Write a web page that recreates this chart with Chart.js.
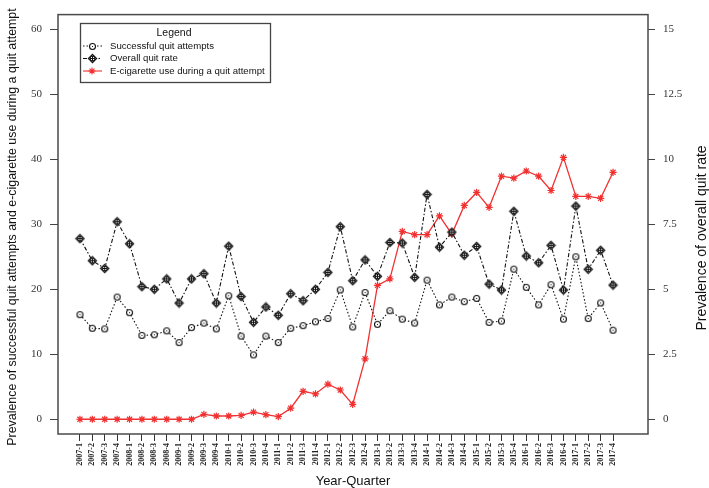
<!DOCTYPE html>
<html>
<head>
<meta charset="utf-8">
<script src="https://cdn.jsdelivr.net/npm/chart.js@4.4.0/dist/chart.umd.min.js"></script>
<style>
  html, body { margin: 0; padding: 0; background: #fff; }
</style>
</head>
<body>
<canvas id="quitChart" width="709" height="488"></canvas>
<script>
// Quit attempts / e-cig use by quarter, 2007-2017

const quarters = [
  '2007-1','2007-2','2007-3','2007-4','2008-1','2008-2','2008-3','2008-4',
  '2009-1','2009-2','2009-3','2009-4','2010-1','2010-2','2010-3','2010-4',
  '2011-1','2011-2','2011-3','2011-4','2012-1','2012-2','2012-3','2012-4',
  '2013-1','2013-2','2013-3','2013-4','2014-1','2014-2','2014-3','2014-4',
  '2015-1','2015-2','2015-3','2015-4','2016-1','2016-2','2016-3','2016-4',
  '2017-1','2017-2','2017-3','2017-4'
];

// left axis (%)
const successfulQuits = [
  16.1, 14.0, 13.9, 18.8, 16.4, 12.9, 13.0, 13.6, 11.8, 14.1, 14.8, 13.9,
  19.0, 12.8, 9.9, 12.8, 11.8, 14.0, 14.4, 15.0, 15.5, 19.9, 14.2, 19.5,
  14.6, 16.7, 15.4, 14.8, 21.4, 17.6, 18.8, 18.1, 18.6, 14.9, 15.1, 23.1,
  20.3, 17.6, 20.7, 15.4, 25.0, 15.5, 17.9, 13.7
];

// right axis (%)
const overallQuitRate = [
  6.95, 6.1, 5.8, 7.6, 6.75, 5.1, 5.0, 5.4, 4.47, 5.4, 5.6, 4.47,
  6.66, 4.72, 3.73, 4.32, 4.0, 4.83, 4.56, 5.0, 5.65, 7.41, 5.33, 6.13,
  5.5, 6.8, 6.78, 5.46, 8.65, 6.62, 7.2, 6.31, 6.65, 5.2, 4.97, 8.0,
  6.28, 6.02, 6.69, 4.97, 8.2, 5.77, 6.5, 5.16
];

// left axis (%)
const ecigDuringAttempt = [
  0, 0, 0, 0, 0, 0, 0, 0, 0, 0, 0.75, 0.5,
  0.5, 0.6, 1.1, 0.7, 0.4, 1.7, 4.3, 3.9, 5.4, 4.5, 2.3, 9.3,
  20.6, 21.6, 28.9, 28.4, 28.4, 31.3, 28.5, 32.9, 34.9, 32.6, 37.4, 37.1,
  38.2, 37.4, 35.2, 40.3, 34.3, 34.3, 34.0, 38.0
];

const leftTicks = [0, 10, 20, 30, 40, 50, 60];
const rightTicks = [0, 2.5, 5, 7.5, 10, 12.5, 15];

const INK = '#111';
const RED = '#f23030';
const SANS = "'Liberation Sans', Arial, sans-serif";
const SERIF = "'Liberation Serif', 'Times New Roman', serif";

function makeMarker(size, draw) {
  const c = document.createElement('canvas');
  c.width = c.height = size;
  draw(c.getContext('2d'), size / 2);
  return c;
}

const circleMark = makeMarker(9, (g, m) => {
  g.strokeStyle = INK; g.fillStyle = '#fff'; g.lineWidth = 1.1;
  g.beginPath(); g.arc(m, m, 3, 0, Math.PI * 2); g.fill(); g.stroke();
  g.fillStyle = INK; g.fillRect(m - 0.5, m - 0.5, 1, 1);
});

const diamondMark = makeMarker(11, (g, m) => {
  g.strokeStyle = INK; g.fillStyle = '#fff'; g.lineWidth = 1.2;
  g.beginPath();
  g.moveTo(m, m - 4.1); g.lineTo(m + 4.1, m); g.lineTo(m, m + 4.1); g.lineTo(m - 4.1, m);
  g.closePath(); g.fill(); g.stroke();
  g.lineWidth = 1;
  g.beginPath(); g.arc(m, m, 2.5, 0, Math.PI * 2); g.stroke();
  g.beginPath();
  g.moveTo(m - 2.5, m); g.lineTo(m + 2.5, m);
  g.moveTo(m, m - 2.5); g.lineTo(m, m + 2.5);
  g.stroke();
});

const toPoints = arr => arr.map((v, i) => ({ x: i, y: v }));

const series = [
  { label: 'Successful quit attempts', data: successfulQuits, axis: 'y', color: INK, dash: [1.5, 2], style: circleMark },
  { label: 'Overall quit rate', data: overallQuitRate, axis: 'y2', color: INK, dash: [4, 2, 1.5, 2], style: diamondMark },
  { label: 'E-cigarette use during a quit attempt', data: ecigDuringAttempt, axis: 'y', color: RED, dash: [], style: 'star' }
];

// frame, axis titles and the boxed legend
const decorations = {
  id: 'decorations',
  beforeDatasetsDraw(chart) {
    const { ctx, chartArea: a } = chart;
    ctx.save();
    ctx.strokeStyle = '#4a4a4a';
    ctx.lineWidth = 1.5;
    ctx.strokeRect(a.left, a.top, a.right - a.left, a.bottom - a.top);
    ctx.restore();
  },
  afterDraw(chart) {
    const { ctx, chartArea: a } = chart;
    ctx.save();
    ctx.fillStyle = '#111';
    ctx.textAlign = 'center';
    ctx.textBaseline = 'middle';

    ctx.font = `13px ${SANS}`;
    ctx.fillText('Year-Quarter', (a.left + a.right) / 2, 481);

    ctx.save();
    ctx.translate(13, 227);
    ctx.rotate(-Math.PI / 2);
    ctx.font = `12.4px ${SANS}`;
    ctx.fillText('Prevalence of successful quit attempts and e-cigarette use during a quit attempt', 0, 0);
    ctx.restore();

    ctx.save();
    ctx.translate(702, 238);
    ctx.rotate(-Math.PI / 2);
    ctx.font = `14px ${SANS}`;
    ctx.fillText('Prevalence of overall quit rate', 0, 0);
    ctx.restore();

    // legend box
    const lx = 80, ly = 23, lw = 190, lh = 59;
    ctx.fillStyle = '#fff';
    ctx.fillRect(lx, ly, lw, lh);
    ctx.strokeStyle = '#444';
    ctx.lineWidth = 1.3;
    ctx.strokeRect(lx + 0.5, ly + 0.5, lw, lh);

    ctx.fillStyle = '#111';
    ctx.font = `10.5px ${SANS}`;
    ctx.fillText('Legend', lx + 94, ly + 10);

    ctx.font = `9.6px ${SANS}`;
    ctx.textAlign = 'left';
    series.forEach((s, i) => {
      const y = ly + 23 + i * 12.5;
      ctx.strokeStyle = s.color;
      ctx.lineWidth = 1.1;
      ctx.setLineDash(s.dash);
      ctx.beginPath(); ctx.moveTo(lx + 3, y); ctx.lineTo(lx + 22, y); ctx.stroke();
      ctx.setLineDash([]);
      if (s.style === 'star') {
        const r = 3.5;
        ctx.strokeStyle = RED;
        ctx.beginPath();
        for (let k = 0; k < 4; k++) {
          const t = k * Math.PI / 4;
          ctx.moveTo(lx + 12 - r * Math.cos(t), y - r * Math.sin(t));
          ctx.lineTo(lx + 12 + r * Math.cos(t), y + r * Math.sin(t));
        }
        ctx.stroke();
      } else {
        ctx.drawImage(s.style, Math.round(lx + 12 - s.style.width / 2), Math.round(y - s.style.height / 2));
      }
      ctx.fillStyle = '#111';
      ctx.fillText(s.label, lx + 30, y);
    });
    ctx.restore();
  }
};

new Chart(document.getElementById('quitChart'), {
  type: 'line',
  data: {
    datasets: series.map((s, i) => ({
      label: s.label,
      data: toPoints(s.data),
      yAxisID: s.axis,
      borderColor: s.color,
      backgroundColor: s.color,
      borderWidth: s.color === RED ? 1.3 : 1.1,
      borderDash: s.dash,
      pointStyle: s.style,
      pointRadius: 3.6,
      pointBorderWidth: 1.2,
      pointBorderColor: s.color,
      tension: 0,
      fill: false,
      order: i === 1 ? 0 : 1
    }))
  },
  options: {
    responsive: false,
    animation: false,
    devicePixelRatio: 1,
    layout: { padding: { top: 8, left: 0, right: 0, bottom: 0 } },
    plugins: { legend: { display: false }, tooltip: { enabled: false } },
    scales: {
      x: {
        type: 'linear',
        min: -1.77,
        max: 45.82,
        afterBuildTicks: s => { s.ticks = quarters.map((q, i) => ({ value: i })); },
        afterFit: s => { s.height = 54; },
        ticks: {
          autoSkip: false,
          minRotation: 90,
          maxRotation: 90,
          padding: 2,
          color: '#222',
          font: { family: SERIF, size: 8, weight: 'bold' },
          callback: v => quarters[Math.round(v)]
        },
        grid: { drawOnChartArea: false, tickLength: 7, color: '#333' },
        border: { display: false }
      },
      y: {
        position: 'left',
        min: -2.27,
        max: 62.27,
        afterBuildTicks: s => { s.ticks = leftTicks.map(v => ({ value: v })); },
        afterFit: s => { s.width = 58; },
        ticks: { padding: 8, color: '#333', font: { family: SERIF, size: 11 }, callback: v => String(v) },
        grid: { drawOnChartArea: false, tickLength: 8, color: '#444' },
        border: { display: false }
      },
      y2: {
        position: 'right',
        min: -0.568,
        max: 15.568,
        afterBuildTicks: s => { s.ticks = rightTicks.map(v => ({ value: v })); },
        afterFit: s => { s.width = 61; },
        ticks: { padding: 8, color: '#333', font: { family: SERIF, size: 11 }, callback: v => String(v) },
        grid: { drawOnChartArea: false, tickLength: 7, color: '#444' },
        border: { display: false }
      }
    }
  },
  plugins: [decorations]
});
</script>
</body>
</html>
